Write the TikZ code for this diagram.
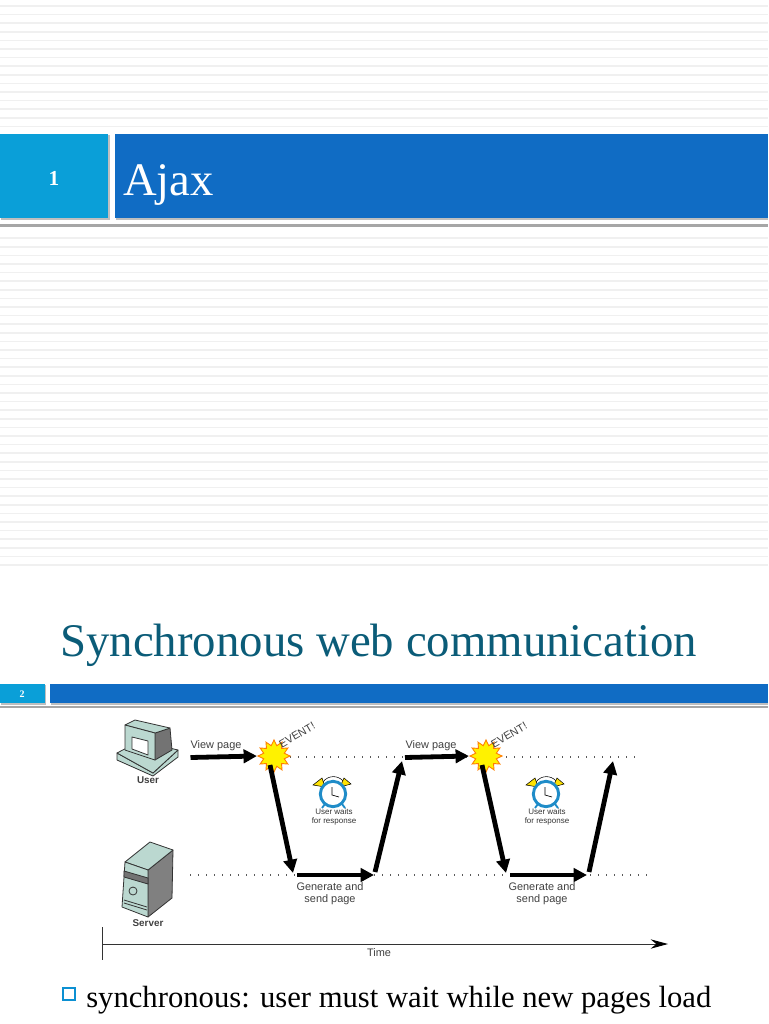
\documentclass[tikz,border=0pt]{standalone}
\usepackage{fontspec}
\setmainfont{Liberation Serif}
\setsansfont{Liberation Sans}
\usetikzlibrary{arrows.meta,shapes.geometric}
\definecolor{slideblue}{HTML}{106CC4}
\definecolor{slidecyan}{HTML}{0A9FD8}
\definecolor{titleteal}{HTML}{0B5C78}
\definecolor{iconteal}{HTML}{BBD8D0}
\definecolor{clockblue}{HTML}{1F8CC8}
\tikzset{
  flow/.style={line width=3.6pt,-{Triangle[length=10pt,width=10pt]}},
  level/.style={line width=0.9pt,color=black!65,dash pattern=on 1pt off 5pt},
  small/.style={font=\sffamily\fontsize{8.2}{9.2}\selectfont,color=black!75,align=center,inner sep=0pt},
  tiny/.style={font=\sffamily\fontsize{6}{6.6}\selectfont,color=black!80,align=center,inner sep=0pt},
  actor/.style={font=\sffamily\bfseries\fontsize{7.4}{8.4}\selectfont,color=black!75,inner sep=0pt},
  burst/.style={star,star points=12,star point ratio=1.5,minimum size=24pt,inner sep=0pt,fill=yellow,draw=orange,line width=0.7pt},
  icon/.style={draw=black!80,line width=0.6pt,line join=round,fill=iconteal}
}
\begin{document}
\begin{tikzpicture}[x=0.75pt,y=-0.75pt]
\useasboundingbox (0,0) rectangle (768,1024);
% stripes
\foreach \y in {6,14.6,...,571}
\draw[color=black!6,line width=1.3pt] (0,\y) -- (768,\y);
\fill[white] (0,129) rectangle (768,232);
% slide one
\fill[black!35] (0,223.5) rectangle (768,227);
\fill[black!25] (1,135) rectangle (109.5,220);
\fill[black!25] (116,135) rectangle (768,220);
\fill[slidecyan] (0,134) rectangle (108,218);
\fill[slideblue] (115,134) rectangle (768,218);
\node[font=\bfseries\fontsize{16}{18}\selectfont,color=white,inner sep=0pt] (numa) at (54,178) {1};
\node[font=\fontsize{35}{40}\selectfont,color=white,anchor=base west,inner sep=0pt] (titlea) at (123,195) {Ajax};
% slide two
\node[font=\fontsize{35.1}{40}\selectfont,color=titleteal,anchor=base west,inner sep=0pt] (titleb) at (60,656) {Synchronous web communication};
\fill[black!35] (0,705.5) rectangle (768,708);
\fill[black!25] (1,685) rectangle (46,704.5);
\fill[black!25] (51,685) rectangle (768,704.5);
\fill[slidecyan] (0,684) rectangle (45,703);
\fill[slideblue] (50,684) rectangle (768,703);
\node[font=\bfseries\fontsize{7.5}{9}\selectfont,color=white,inner sep=0pt] (numb) at (22,694) {2};
% user
\draw[icon] (117,753) -- (153,773) -- (178,750) -- (178,757) -- (153,776) -- (117,760) -- cycle;
\draw[icon] (117,753) -- (140,741) -- (178,750) -- (153,773) -- cycle;
\draw[icon,fill=black!55] (155,733) -- (170,728) -- (172,750) -- (155,760) -- cycle;
\draw[icon] (125,725) -- (135,720) -- (170,728) -- (155,733) -- cycle;
\draw[icon] (125,725) -- (155,733) -- (155,760) -- (125,750) -- cycle;
\draw[icon,fill=white] (132,737) -- (148,741) -- (148,755) -- (132,749) -- cycle;
\node[actor] (user) at (148,780) {User};
% server
\draw[icon,fill=black!50] (148,870) -- (173,850) -- (172,898) -- (148,917) -- cycle;
\draw[icon] (125,862) -- (150,842) -- (173,850) -- (148,870) -- cycle;
\draw[icon] (125,862) -- (148,870) -- (148,917) -- (122,907) -- cycle;
\draw[icon,fill=black!55] (124,871) -- (148,878) -- (148,884) -- (124,877) -- cycle;
\draw[black!80,line width=0.6pt] (133,891) circle[radius=3pt];
\draw[black!80,line width=0.6pt] (124,903) -- (147,910) (124,900) -- (147,907);
\node[actor] (server) at (148,923) {Server};
% levels
\coordinate (userstart) at (290,757);
\coordinate (userend) at (636,757);
\coordinate (srvstart) at (190,875);
\coordinate (srvend) at (650,875);
\draw[level] (userstart) -- (userend);
\draw[level] (srvstart) -- (srvend);
\node[burst] (eventa) at (274,756) {};
\node[burst] (eventb) at (486,756) {};
% first cycle
\coordinate (viewa) at (190.5,757.5);
\coordinate (leavea) at (270,765);
\coordinate (hita) at (293,873);
\coordinate (gena) at (297,875);
\coordinate (senta) at (374,875);
\coordinate (upa) at (375,872);
\coordinate (backa) at (402,761);
\draw[flow] (viewa) -- (eventa.west);
\draw[flow] (leavea) -- (hita);
\draw[flow] (gena) -- (senta);
\draw[flow] (upa) -- (backa);
% second cycle
\coordinate (viewb) at (405,757.5);
\coordinate (leaveb) at (482,765);
\coordinate (hitb) at (506,873);
\coordinate (genb) at (510,875);
\coordinate (sentb) at (587,875);
\coordinate (upb) at (589,872);
\coordinate (backb) at (613,761);
\draw[flow] (viewb) -- (eventb.west);
\draw[flow] (leaveb) -- (hitb);
\draw[flow] (genb) -- (sentb);
\draw[flow] (upb) -- (backb);
% labels
\node[small] (pagea) at (216,746) {View page};
\node[small] (pageb) at (431,746) {View page};
\node[small,rotate=30] (evta) at (297,735) {EVENT!};
\node[small,rotate=30] (evtb) at (509,735) {EVENT!};
\node[small] (sendall) at (330,894) {Generate and\\send page};
\node[small] (sendblk) at (542,894) {Generate and\\send page};
\node[tiny] (waita) at (334,817) {User waits\\for response};
\node[tiny] (waitb) at (547,817) {User waits\\for response};
% clocks
\foreach \x in {0,213}
{
\draw[shift={(\x,0)},black,line width=0.4pt] (323,782) .. controls (328,775) and (338,775) .. (343,781);
\draw[shift={(\x,0)},black,line width=0.4pt,fill=yellow!85!orange] (322,778) -- (313,785) -- (325,787) -- cycle;
\draw[shift={(\x,0)},black,line width=0.4pt,fill=yellow!85!orange] (344,778) -- (351,784) -- (340,787) -- cycle;
\draw[shift={(\x,0)},line width=1.4pt,clockblue] (325,804) -- (322,808) (342,804) -- (345,808);
\draw[shift={(\x,0)},line width=2.2pt,clockblue,fill=white] (333,794) circle[radius=9.5pt];
\draw[shift={(\x,0)},black,line width=0.5pt] (332,787) -- (332,795) -- (339,797);
}
% time axis
\coordinate (timestart) at (102.5,944);
\coordinate (timeend) at (668,944);
\coordinate (tickup) at (102.5,927);
\coordinate (tickdown) at (102.5,960);
\draw[black!80,line width=0.7pt] (tickup) -- (tickdown);
\draw[black!80,line width=0.7pt,-{Stealth[length=13pt,width=7pt,color=black]}] (timestart) -- (timeend);
\node[small] (time) at (379,953) {Time};
% bullet
\node[draw=slidecyan!70!slideblue,line width=1.2pt,minimum size=9pt,inner sep=0pt] (bullet) at (69,994) {};
\node[font=\fontsize{23}{27}\selectfont,color=black,anchor=base west,inner sep=0pt] (sync) at (86,1007) {synchronous: user must wait while new pages load};
\end{tikzpicture}
\end{document}
